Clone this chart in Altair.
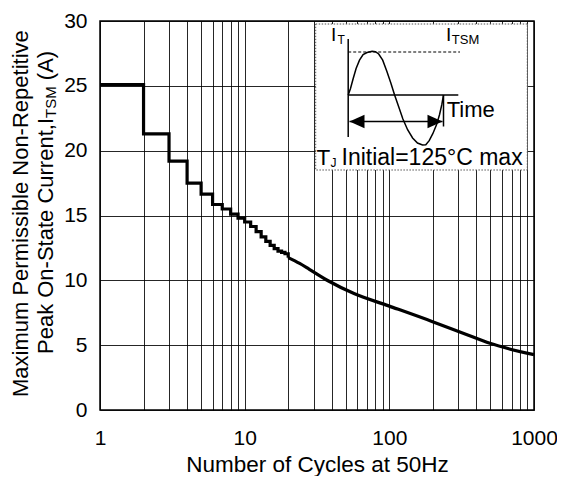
import altair as alt
import pandas as pd

FONT = "Liberation Sans"

# ---------------- main curve ----------------
step_cycles = [1, 2, 3, 4, 5, 6, 7, 8, 9, 10, 11, 12, 13, 14, 15, 16, 17, 18, 19, 20]
step_current = [25.1, 21.3, 19.2, 17.5, 16.65, 15.85, 15.5, 15.1, 14.8, 14.5,
                14.15, 13.75, 13.35, 13.0, 12.7, 12.45, 12.25, 12.15, 12.05, 11.75]
smooth_cycles = [20, 24, 28, 38, 57, 99, 197, 334, 496, 1000]
smooth_current = [11.75, 11.3, 10.85, 9.95, 8.98, 8.03, 6.83, 5.86, 5.14, 4.27]

x_grid = [1, 2, 3, 4, 5, 6, 7, 8, 9, 10, 20, 30, 40, 50, 60, 70, 80, 90,
          100, 200, 300, 400, 500, 600, 700, 800, 900, 1000]
x_labels = [1, 10, 100, 1000]
y_ticks = [0, 5, 10, 15, 20, 25, 30]

x_title = "Number of Cycles at 50Hz"

# ---------------- inset diagram / annotation geometry (page px) ----------------
box = {"x": [315.7], "x2": [527.3], "y": [24.0], "y2": [170.0]}
seg_x = [348.2, 348.2, 443.5, 349.5]
seg_x2 = [348.2, 458.3, 443.5, 442.5]
seg_y = [39.0, 95.0, 95.0, 121.5]
seg_y2 = [137.0, 95.0, 126.5, 121.5]
dot_line = {"x": [348.2], "x2": [460.0], "y": [52.0], "y2": [52.0]}
wave_x = [348.2, 350.5, 353.2, 356.1, 359.5, 363.1, 367.1, 372.1, 375.4, 378.7,
          382.7, 387.0, 391.0, 394.6, 398.6, 402.9, 407.6, 412.6, 417.5, 422.5,
          425.8, 429.2, 432.8, 436.5, 439.5, 441.8, 443.5]
wave_y = [95.0, 88.5, 78.5, 68.5, 60.2, 54.5, 52.5, 51.2, 51.7, 54.0,
          60.2, 71.8, 83.5, 95.0, 106.5, 119.0, 129.7, 138.0, 143.0, 145.0,
          144.7, 140.7, 133.7, 124.7, 114.7, 104.7, 95.0]
head_x = [357.0, 435.0]
head_y = [121.5, 121.5]
head_shape = ["M -1 0 L 1 -0.9 L 1 0.9 Z", "M 1 0 L -1 -0.9 L -1 0.9 Z"]

txt = ["I", "T", "I", "TSM", "Time", "T", "J", "Initial=125°C max",
       "Maximum Permissible Non-Repetitive", "Peak On-State Current,I", "TSM", "(A)"]
txt_x = [331.0, 337.5, 446.0, 451.8, 446.7, 316.5, 330.5, 341.5,
         28.3, 53.3, 56.0, 53.3]
txt_y = [41.0, 44.0, 41.3, 43.5, 116.5, 164.5, 166.8, 164.5,
         397.0, 354.0, 118.0, 80.2]
txt_size = [19, 12, 19, 13, 22, 22.5, 12, 23,
            22, 22, 15, 22]
txt_angle = [0, 0, 0, 0, 0, 0, 0, 0, 270, 270, 270, 270]

# ---------------- build ----------------
step_df = pd.DataFrame({"n": step_cycles, "a": step_current})
smooth_df = pd.DataFrame({"n": smooth_cycles, "a": smooth_current})

label_list = ",".join(str(v) for v in x_labels)
X = alt.X(
    "n:Q",
    scale=alt.Scale(type="log", domain=[1, 1000], nice=False),
    axis=alt.Axis(
        values=x_grid,
        labelExpr=f"indexof([{label_list}], datum.value) >= 0 ? format(datum.value, 'd') : ''",
        grid=True, gridColor="black", gridOpacity=0.85, gridWidth=1,
        ticks=False, tickSize=0, domain=False,
        labelFont=FONT, labelFontSize=21, labelColor="black",
        labelPadding=17, labelFlush=False, labelOverlap=False,
        title=x_title, titleFont=FONT, titleFontSize=22.5, titleFontWeight="normal",
        titleColor="black", titleY=61.5, titleBaseline="alphabetic",
    ),
)
Y = alt.Y(
    "a:Q",
    scale=alt.Scale(domain=[0, 30], nice=False),
    axis=alt.Axis(
        values=y_ticks, title=None,
        grid=True, gridColor="black", gridOpacity=0.85, gridWidth=1,
        ticks=False, tickSize=0, domain=False,
        labelFont=FONT, labelFontSize=21, labelColor="black",
        labelPadding=13, labelFlush=False,
    ),
)

step = alt.Chart(step_df).mark_line(
    interpolate="step-after", color="black", strokeWidth=3.2
).encode(x=X, y=Y)
smooth = alt.Chart(smooth_df).mark_line(
    color="black", strokeWidth=3.2, interpolate="monotone"
).encode(x=X, y=Y)
main = alt.layer(step, smooth)

AX = alt.X("x:Q", scale=alt.Scale(domain=[100, 534], nice=False, zero=False), axis=None)
AY = alt.Y("y:Q", scale=alt.Scale(domain=[410, 21], nice=False, zero=False), axis=None)

box_l = alt.Chart(pd.DataFrame(box)).mark_rect(
    fill="white", stroke="#555555", strokeDash=[1.5, 1.5], strokeWidth=1
).encode(x=AX, x2="x2:Q", y=AY, y2="y2:Q")

seg_l = alt.Chart(pd.DataFrame({"x": seg_x, "x2": seg_x2, "y": seg_y, "y2": seg_y2})).mark_rule(
    color="black", strokeWidth=1.5
).encode(x=AX, x2="x2:Q", y=AY, y2="y2:Q")

dot_l = alt.Chart(pd.DataFrame(dot_line)).mark_rule(
    color="black", strokeWidth=1.2, strokeDash=[3, 2]
).encode(x=AX, x2="x2:Q", y=AY, y2="y2:Q")

wave_l = alt.Chart(pd.DataFrame({"x": wave_x, "y": wave_y, "i": list(range(len(wave_x)))})).mark_line(
    color="black", strokeWidth=1.5
).encode(x=AX, y=AY, order="i:Q")

head_l = alt.Chart(pd.DataFrame({"x": head_x, "y": head_y, "shape": head_shape})).mark_point(
    filled=True, color="black", opacity=1, size=225
).encode(x=AX, y=AY, shape=alt.Shape("shape:N", scale=None))

text_l = alt.Chart(pd.DataFrame({"x": txt_x, "y": txt_y, "t": txt, "fs": txt_size, "ang": txt_angle})).mark_text(
    align="left", baseline="alphabetic", font=FONT, color="black"
).encode(
    x=AX, y=AY, text="t:N",
    size=alt.Size("fs:Q", scale=None),
    angle=alt.Angle("ang:Q", scale=None),
)

annot = alt.layer(box_l, seg_l, dot_l, wave_l, head_l, text_l)

chart = (
    alt.layer(main, annot)
    .resolve_scale(x="independent", y="independent")
    .properties(
        width=434, height=389,
        autosize=alt.AutoSizeParams(type="none"),
        padding={"left": 92, "top": 13, "right": 23, "bottom": 66},
        background="white",
    )
    .configure_view(stroke="black", strokeWidth=1.5)
)

chart.save("out.html", embed_options={"renderer": "svg", "actions": False})
